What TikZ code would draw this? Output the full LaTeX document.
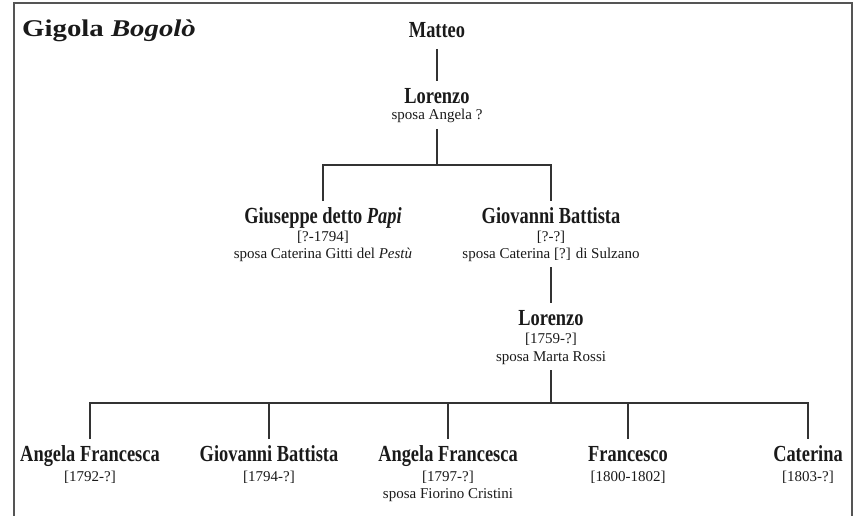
\documentclass[tikz,border=0pt]{standalone}
\usepackage{fontspec}
\setmainfont{Liberation Serif}
\newfontfamily\namefont[FakeStretch=0.8]{Liberation Serif}
\newfontfamily\titlefont[FakeStretch=1.2]{Liberation Serif}
\definecolor{inkc}{HTML}{1A1A1A}
\definecolor{linec}{HTML}{333333}
\definecolor{framec}{HTML}{555555}
\tikzset{
  pname/.style={inner sep=0pt, outer xsep=0pt, outer ysep=7pt, anchor=base, text=inkc,
    font=\namefont\bfseries\fontsize{23}{27}\selectfont, text height=15pt, text depth=4pt},
  pinfo/.style={inner sep=0pt, outer xsep=0pt, outer ysep=6pt, anchor=base, text=inkc,
    font=\fontsize{15}{17}\selectfont, text height=11pt, text depth=3pt},
  conn/.style={draw=linec, line width=1.2pt},
  frameline/.style={draw=framec, line width=2pt},
}
\begin{document}
\begin{tikzpicture}[x=1pt,y=-1pt]
\useasboundingbox (0,0) rectangle (864,516);
\draw[frameline] (14,530) -- (14,3) -- (852,3) -- (852,530);
\node[anchor=base west, inner sep=0pt, text=inkc, font=\titlefont\bfseries\fontsize{24}{28}\selectfont] (title) at (22,37) {Gigola \textit{Bogolò}};

% generation 1
\node[pname] (matteo) at (437,38) {Matteo};
\node[pname] (lor1) at (437,103) {Lorenzo};
\node[pinfo] (lor1s) at (437,120) {sposa Angela ?};

% generation 2
\node[pname] (gius) at (323,223) {Giuseppe detto \textit{Papi}};
\node[pinfo] (giusd) at (323,241) {[?-1794]};
\node[pinfo] (giuss) at (323,258) {sposa Caterina Gitti del \textit{Pestù}};
\node[pname] (giov) at (551,223) {Giovanni Battista};
\node[pinfo] (giovd) at (551,241) {[?-?]};
\node[pinfo] (giovs) at (551,258) {sposa Caterina [?] di Sulzano};

% generation 3
\node[pname] (lor2) at (551,325) {Lorenzo};
\node[pinfo] (lor2d) at (551,343) {[1759-?]};
\node[pinfo] (lor2s) at (551,361) {sposa Marta Rossi};

% generation 4
\node[pname] (c1) at (90,461) {Angela Francesca};
\node[pinfo] (c1d) at (90,481) {[1792-?]};
\node[pname] (c2) at (269,461) {Giovanni Battista};
\node[pinfo] (c2d) at (269,481) {[1794-?]};
\node[pname] (c3) at (448,461) {Angela Francesca};
\node[pinfo] (c3d) at (448,481) {[1797-?]};
\node[pinfo] (c3s) at (448,498) {sposa Fiorino Cristini};
\node[pname] (c4) at (628,461) {Francesco};
\node[pinfo] (c4d) at (628,481) {[1800-1802]};
\node[pname] (c5) at (808,461) {Caterina};
\node[pinfo] (c5d) at (808,481) {[1803-?]};

% connectors
\coordinate (bar1) at (437,165);
\coordinate (bar2) at (551,403);
\draw[conn] (matteo.south) -- (lor1.north);
\draw[conn] (lor1s.south) -- (bar1);
\draw[conn] (gius.north) |- (bar1) -| (giov.north);
\draw[conn] (giovs.south) -- (lor2.north);
\draw[conn] (lor2s.south) -- (bar2);
\draw[conn] (c1.north) |- (bar2) -| (c5.north);
\draw[conn] (c2.north) -- (c2.north |- bar2);
\draw[conn] (c3.north) -- (c3.north |- bar2);
\draw[conn] (c4.north) -- (c4.north |- bar2);
\end{tikzpicture}
\end{document}
